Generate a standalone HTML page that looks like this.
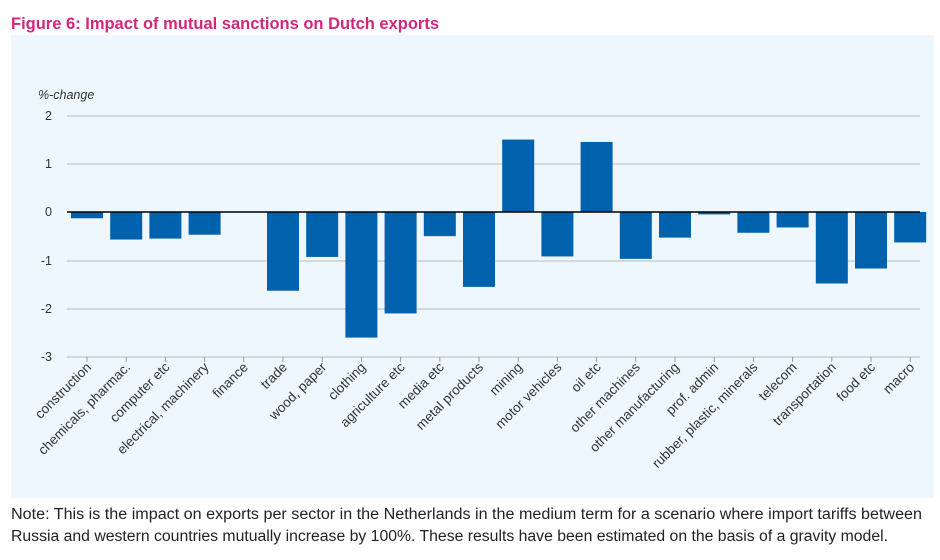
<!DOCTYPE html>
<html><head><meta charset="utf-8"><style>
body{margin:0;background:#fff;width:940px;height:555px;overflow:hidden;font-family:"Liberation Sans",sans-serif}
</style></head><body>
<svg width="940" height="555" xmlns="http://www.w3.org/2000/svg" font-family="Liberation Sans, sans-serif">
<rect width="940" height="555" fill="#fff"/>
<text x="11" y="29" font-size="16.5" font-weight="bold" fill="#d4267a" textLength="428" lengthAdjust="spacingAndGlyphs">Figure 6: Impact of mutual sanctions on Dutch exports</text>
<rect x="11" y="35" width="923" height="463" fill="#eef7fd"/>
<text x="38" y="99" font-size="12.5" font-style="italic" fill="#333">%-change</text>
<g stroke="#bbb" stroke-width="1">
<line x1="67" x2="920" y1="116" y2="116"/><line x1="67" x2="920" y1="164" y2="164"/>
<line x1="67" x2="920" y1="261" y2="261"/><line x1="67" x2="920" y1="309" y2="309"/>
<line x1="67" x2="920" y1="357" y2="357"/>
</g>
<g font-size="12.5" fill="#333" text-anchor="end">
<text x="52" y="120">2</text><text x="52" y="168">1</text><text x="52" y="216">0</text>
<text x="52" y="265">-1</text><text x="52" y="313">-2</text><text x="52" y="361">-3</text>
</g>
<g id="bars" fill="#0061ad"></g>
<line x1="67" x2="920" y1="212" y2="212" stroke="#000" stroke-width="1.5"/>
<g id="labels" font-size="13.5" fill="#333"></g>
<text x="11" y="519" font-size="15.5" fill="#222" textLength="911" lengthAdjust="spacingAndGlyphs">Note: This is the impact on exports per sector in the Netherlands in the medium term for a scenario where import tariffs between</text>
<text x="11" y="541" font-size="15.5" fill="#222" textLength="877" lengthAdjust="spacingAndGlyphs">Russia and western countries mutually increase by 100%. These results have been estimated on the basis of a gravity model.</text>
<script>
var names=["construction","chemicals, pharmac.","computer etc","electrical, machinery","finance","trade","wood, paper","clothing","agriculture etc","media etc","metal products","mining","motor vehicles","oil etc","other machines","other manufacturing","prof. admin","rubber, plastic, minerals","telecom","transportation","food etc","macro"];
var v=[-0.13,-0.57,-0.55,-0.47,0,-1.63,-0.93,-2.6,-2.1,-0.5,-1.55,1.5,-0.92,1.45,-0.97,-0.53,-0.05,-0.43,-0.32,-1.48,-1.17,-0.63];
var ns="http://www.w3.org/2000/svg",b=document.getElementById("bars"),l=document.getElementById("labels");
var tk=document.querySelector("svg");
for(var i=0;i<22;i++){var cx=87+i*39.2;var y0=212,y1=212-v[i]*48.3;
var r=document.createElementNS(ns,"rect");r.setAttribute("x",cx-16);r.setAttribute("width",32);
r.setAttribute("y",Math.min(y0,y1));r.setAttribute("height",Math.abs(y1-y0));b.appendChild(r);
var t=document.createElementNS(ns,"line");t.setAttribute("x1",cx);t.setAttribute("x2",cx);t.setAttribute("y1",357);t.setAttribute("y2",362);t.setAttribute("stroke","#999");tk.appendChild(t);
var tx=document.createElementNS(ns,"text");tx.setAttribute("text-anchor","end");
tx.setAttribute("transform","translate("+(cx+5)+",368) rotate(-45)");tx.textContent=names[i];l.appendChild(tx);}
</script>
</svg>
</body></html>
